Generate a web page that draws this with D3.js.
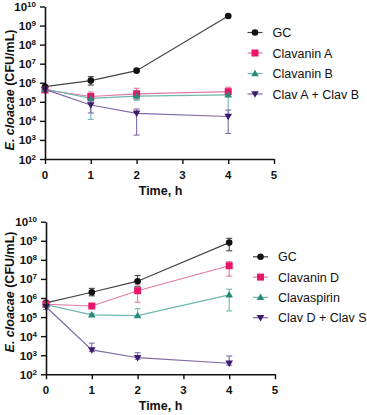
<!DOCTYPE html>
<html><head><meta charset="utf-8">
<script src="https://cdn.jsdelivr.net/npm/d3@7"></script>
<style>body{margin:0;background:#fff}svg{display:block}text{font-family:"Liberation Sans",Arial,sans-serif}</style>
</head><body><svg id="c" width="367" height="415"></svg>
<script>
const times = [0, 1, 2, 4];
const xTicks = [0, 1, 2, 3, 4, 5];
const yExps = [2, 3, 4, 5, 6, 7, 8, 9, 10];

// top panel
const topNames = ["GC", "Clavanin A", "Clavanin B", "Clav A + Clav B"];
const topGC = [6.2e5, 1.3e6, 4.3e6, 3.2e9];
const topGCHi = [6.6e5, 2.1e6, 5.0e6, 3.3e9];
const topGCLo = [5.8e5, 7.6e5, 3.8e6, 3.1e9];
const topA = [4.2e5, 1.9e5, 2.6e5, 3.4e5];
const topAHi = [5.0e5, 3.3e5, 5.1e5, 5.8e5];
const topALo = [3.5e5, 1.0e5, 1.35e5, 1.9e5];
const topB = [4.7e5, 1.5e5, 2.0e5, 2.3e5];
const topBHi = [5.3e5, 2.5e5, 4.0e5, 3.5e5];
const topBLo = [4.0e5, 1.2e4, 1.2e5, 2.0e4];
const topAB = [4.5e5, 6.8e4, 2.5e4, 1.7e4];
const topABHi = [5.0e5, 1.4e5, 4.2e4, 3.7e4];
const topABLo = [4.0e5, 2.6e4, 1.8e3, 2.2e3];

// bottom panel
const botNames = ["GC", "Clavanin D", "Clavaspirin", "Clav D + Clav S"];
const botGC = [5.6e5, 2.0e6, 7.6e6, 8.0e8];
const botGCHi = [6.5e5, 3.2e6, 1.5e7, 1.35e9];
const botGCLo = [4.8e5, 1.3e6, 3.9e6, 3.0e8];
const botD = [4.7e5, 3.8e5, 2.4e6, 4.9e7];
const botDHi = [5.5e5, 4.5e5, 4.8e6, 8.0e7];
const botDLo = [4.0e5, 3.0e5, 6.0e5, 1.4e7];
const botS = [4.5e5, 1.3e5, 1.2e5, 1.45e6];
const botSHi = [5.0e5, 1.5e5, 2.75e5, 2.9e6];
const botSLo = [4.0e5, 1.1e5, 1.0e5, 2.1e5];
const botDS = [3.5e5, 1.9e3, 7.4e2, 3.8e2];
const botDSHi = [4.5e5, 4.3e3, 1.35e3, 9.1e2];
const botDSLo = [2.5e5, 1.55e3, 6.2e2, 3.0e2];

const markColors = ["#111111", "#e8176a", "#2a8a7a", "#3d1a6e"];
const lineColors = ["#444444", "#e07aa2", "#6fb8ad", "#7f6aa5"];
const shapes = ["circle", "square", "triangle", "itriangle"];

const svg = d3.select("#c");

function marker(g, shape, x, y, color) {
  if (shape === "circle") g.append("circle").attr("cx", x).attr("cy", y).attr("r", 3.3).attr("fill", color);
  else if (shape === "square") g.append("rect").attr("x", x - 3.5).attr("y", y - 3.5).attr("width", 7).attr("height", 7).attr("fill", color);
  else if (shape === "triangle") g.append("path").attr("d", `M${x},${y-3.8}L${x+3.8},${y+2.7}L${x-3.8},${y+2.7}Z`).attr("fill", color);
  else g.append("path").attr("d", `M${x},${y+3.8}L${x+3.8},${y-2.7}L${x-3.8},${y-2.7}Z`).attr("fill", color);
}

function panel(cfg) {
  const x = d3.scaleLinear().domain([0, 5]).range([cfg.x0, cfg.x1]);
  const y = d3.scaleLog().domain([1e2, 1e10]).range([cfg.yb, cfg.yt]);
  const g = svg.append("g");

  cfg.series.forEach((s, i) => {
    const pts = times.map((t, k) => ({t, v: s.v[k], hi: s.hi[k], lo: s.lo[k]}));
    g.append("path").datum(pts)
      .attr("d", d3.line().x(d => x(d.t)).y(d => y(d.v)))
      .attr("fill", "none").attr("stroke", lineColors[i]).attr("stroke-width", 1.2);
    pts.forEach(p => {
      const px = x(p.t);
      g.append("line").attr("x1", px).attr("x2", px).attr("y1", y(p.hi)).attr("y2", y(p.lo))
        .attr("stroke", lineColors[i]).attr("stroke-width", 1.1);
      [p.hi, p.lo].forEach(e => g.append("line").attr("x1", px - 3).attr("x2", px + 3)
        .attr("y1", y(e)).attr("y2", y(e)).attr("stroke", lineColors[i]).attr("stroke-width", 1.1));
    });
  });
  cfg.series.forEach((s, i) => {
    times.forEach((t, k) => marker(g, shapes[i], x(t), y(s.v[k]), markColors[i]));
  });

  const ya = g.append("g").attr("transform", `translate(${cfg.x0},0)`)
    .call(d3.axisLeft(y).tickValues(yExps.map(e => Math.pow(10, e))).tickFormat("").tickSize(5).tickSizeOuter(0));
  const xa = g.append("g").attr("transform", `translate(0,${cfg.yb})`)
    .call(d3.axisBottom(x).tickValues(xTicks).tickFormat("").tickSize(5).tickSizeOuter(0));
  [ya, xa].forEach(a => {
    a.select(".domain").attr("stroke", "#111").attr("stroke-width", 1.6);
    a.selectAll(".tick line").attr("stroke", "#111").attr("stroke-width", 1.4);
  });

  yExps.forEach(e => {
    const t = g.append("text").attr("x", cfg.x0 - 9).attr("y", y(Math.pow(10, e)) + 4.5)
      .attr("text-anchor", "end").attr("font-weight", "bold").attr("font-size", 11.5).attr("fill", "#111");
    t.append("tspan").text("10");
    t.append("tspan").attr("dy", -4).attr("font-size", 8).text(e);
  });
  xTicks.forEach(v => {
    g.append("text").attr("x", x(v)).attr("y", cfg.yb + 19.5).attr("text-anchor", "middle")
      .attr("font-weight", "bold").attr("font-size", 11.5).attr("fill", "#111").text(v);
  });
  g.append("text").attr("x", 160.5).attr("y", cfg.yb + 36).attr("text-anchor", "middle")
    .attr("font-weight", "bold").attr("font-size", 12.5).attr("fill", "#111").text("Time, h");
  const yt = g.append("text").attr("transform", `translate(13.5,${cfg.ymid}) rotate(-90)`)
    .attr("text-anchor", "middle").attr("font-weight", "bold").attr("font-size", 12.5).attr("fill", "#111");
  yt.append("tspan").attr("font-style", "italic").text("E. cloacae");
  yt.append("tspan").text(" (CFU/mL)");

  cfg.names.forEach((n, i) => {
    const ly = cfg.ly + i * cfg.ls;
    g.append("line").attr("x1", cfg.lx).attr("x2", cfg.lx + 15).attr("y1", ly).attr("y2", ly)
      .attr("stroke", lineColors[i]).attr("stroke-width", 1.2);
    marker(g, shapes[i], cfg.lx + 7.5, ly, markColors[i]);
    g.append("text").attr("x", cfg.lx + 25).attr("y", ly + 4.5).attr("font-size", 12.5)
      .attr("fill", "#111").text(n);
  });
}

panel({
  x0: 45, x1: 274, yb: 159, yt: 6.5, ymid: 90, lx: 247.5, ly: 32.5, ls: 20.5,
  names: topNames,
  series: [
    {v: topGC, hi: topGCHi, lo: topGCLo},
    {v: topA, hi: topAHi, lo: topALo},
    {v: topB, hi: topBHi, lo: topBLo},
    {v: topAB, hi: topABHi, lo: topABLo}
  ]
});
panel({
  x0: 46, x1: 275, yb: 374.3, yt: 221.7, ymid: 292, lx: 253, ly: 256.8, ls: 20.3,
  names: botNames,
  series: [
    {v: botGC, hi: botGCHi, lo: botGCLo},
    {v: botD, hi: botDHi, lo: botDLo},
    {v: botS, hi: botSHi, lo: botSLo},
    {v: botDS, hi: botDSHi, lo: botDSLo}
  ]
});
</script></body></html>
